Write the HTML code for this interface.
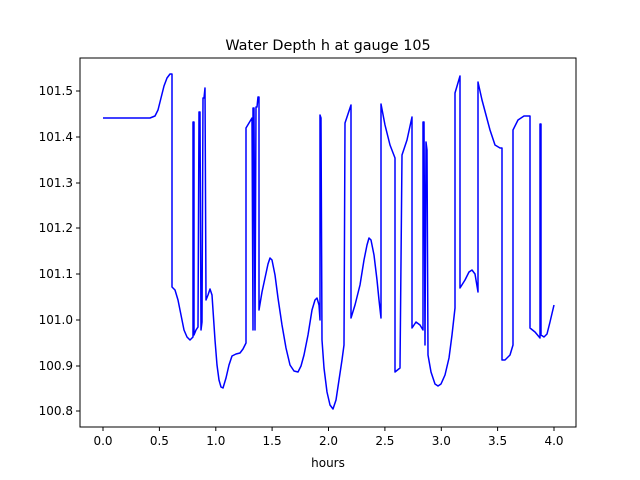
<!DOCTYPE html>
<html><head><style>body{margin:0;background:#fff}svg{display:block}</style></head><body>
<svg width="640" height="480" xmlns="http://www.w3.org/2000/svg" font-family="DejaVu Sans, Liberation Sans, sans-serif">
<rect width="640" height="480" fill="#fff"/>
<text x="328" y="50" font-size="14.4" text-anchor="middle">Water Depth h at gauge 105</text>
<polyline fill="none" stroke="#0000ff" stroke-width="1.5" stroke-linejoin="round" points="
103,118 150,118 155,116 158,110 161,98 164,86 167,78 170,74 172,74 172,287 175,290 178,300 181,315 184,330 187,337 190,340 193,337 193,122 194,122 194,335 196,330 198,327 199,112 200,112 201,330 202,322 203,98 204,98 205,88 206,300 208,295 210,289 212,295 213,310 215,340 217,365 219,380 221,387 223,388 226,378 229,365 232,356 236,354 240,353 243,349 246,343 246,128 252,118 253,330 253,108 254,108 255,330 256,107 257,107 258,97 259,97 259,310 262,292 265,278 268,264 270,258 272,260 275,275 278,298 282,325 286,348 290,365 294,371 298,372 301,366 304,355 308,335 312,310 315,300 317,298 319,305 320,320 320,115 321,118 322,340 324,368 327,392 330,405 333,409 336,400 339,380 342,360 344,345 345,123 351,105 351,318 355,305 360,285 364,260 367,245 369,238 371,240 374,255 377,280 379,300 381,318 381,104 385,125 390,145 395,158 395,372 400,368 402,155 407,140 412,117 412,328 416,322 420,325 423,330 423,122 424,122 425,345 426,142 427,150 428,355 431,372 435,384 438,386 441,384 445,375 449,358 452,335 455,308 455,93 460,76 460,288 465,280 469,272 472,270 475,274 478,292 478,82 482,100 486,115 490,130 495,145 500,148 502,148 502,360 505,360 510,355 513,345 513,130 518,120 524,116 530,116 530,328 535,332 540,338 540,124 541,124 541,335 544,337 547,334 550,322 554,305"/>
<rect x="80" y="58" width="496" height="369" fill="none" stroke="#000" stroke-width="1"/>
<g stroke="#000" stroke-width="1">
<line x1="103" y1="427" x2="103" y2="431"/><line x1="159.4" y1="427" x2="159.4" y2="431"/><line x1="215.8" y1="427" x2="215.8" y2="431"/><line x1="272.1" y1="427" x2="272.1" y2="431"/><line x1="328.5" y1="427" x2="328.5" y2="431"/><line x1="384.9" y1="427" x2="384.9" y2="431"/><line x1="441.3" y1="427" x2="441.3" y2="431"/><line x1="497.6" y1="427" x2="497.6" y2="431"/><line x1="554" y1="427" x2="554" y2="431"/>
<line x1="76" y1="91" x2="80" y2="91"/><line x1="76" y1="137" x2="80" y2="137"/><line x1="76" y1="183" x2="80" y2="183"/><line x1="76" y1="228" x2="80" y2="228"/><line x1="76" y1="274" x2="80" y2="274"/><line x1="76" y1="320" x2="80" y2="320"/><line x1="76" y1="366" x2="80" y2="366"/><line x1="76" y1="411" x2="80" y2="411"/>
</g>
<g font-size="12" text-anchor="middle">
<text x="103" y="445">0.0</text><text x="159.4" y="445">0.5</text><text x="215.8" y="445">1.0</text><text x="272.1" y="445">1.5</text><text x="328.5" y="445">2.0</text><text x="384.9" y="445">2.5</text><text x="441.3" y="445">3.0</text><text x="497.6" y="445">3.5</text><text x="554" y="445">4.0</text>
<text x="328" y="467">hours</text>
</g>
<g font-size="12" text-anchor="end">
<text x="73" y="95">101.5</text><text x="73" y="141">101.4</text><text x="73" y="187">101.3</text><text x="73" y="232">101.2</text><text x="73" y="278">101.1</text><text x="73" y="324">101.0</text><text x="73" y="370">100.9</text><text x="73" y="415">100.8</text>
</g>
</svg>
</body></html>
